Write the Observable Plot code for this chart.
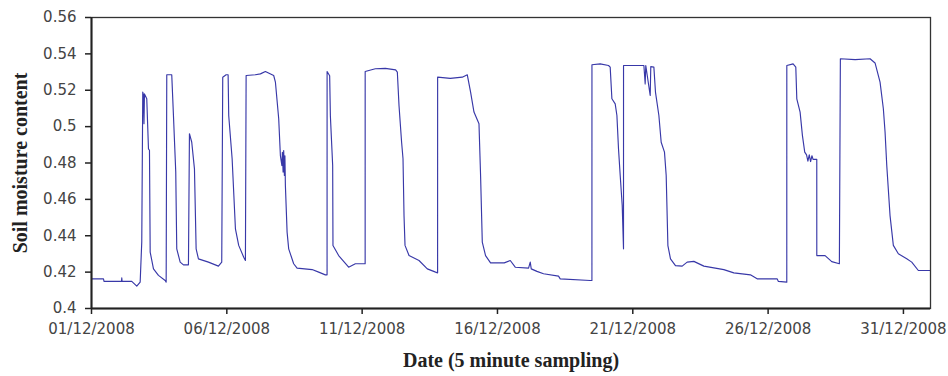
<!DOCTYPE html>
<html><head><meta charset="utf-8">
<script src="https://cdn.jsdelivr.net/npm/d3@7"></script>
<script src="https://cdn.jsdelivr.net/npm/@observablehq/plot@0.6"></script>
<style>body{margin:0;background:#fff}#chart svg{display:block}</style>
</head><body><div id="chart"></div>
<script>
// days since 01/12/2008 00:00
const days = [0.000,0.443,0.462,1.108,1.119,1.130,1.488,1.673,1.798,1.857,1.894,1.920,1.939,1.957,2.042,2.105,2.142,2.168,2.290,2.474,2.722,2.759,2.781,2.965,3.028,3.113,3.124,3.150,3.276,3.397,3.582,3.619,3.704,3.804,3.866,3.951,4.321,4.690,4.812,4.849,4.974,
5.048,5.070,5.196,5.318,5.439,5.624,5.687,5.713,6.056,6.241,6.425,6.732,6.795,6.917,6.979,7.035,7.053,7.079,7.101,7.127,7.146,7.164,7.227,7.286,7.470,7.596,8.150,8.394,8.641,8.704,8.705,8.800,8.826,8.911,8.922,9.132,9.501,9.749,10.055,
10.111,10.112,10.487,10.857,11.237,11.300,11.362,11.458,11.510,11.547,11.584,11.732,12.101,12.408,12.714,12.788,12.789,13.257,13.700,13.885,14.007,14.132,14.317,14.376,14.439,14.560,14.745,15.251,
15.473,15.657,16.148,16.211,16.248,16.459,16.702,17.256,17.319,18.427,18.490,18.491,18.796,19.103,19.165,19.228,19.350,19.413,19.472,19.535,19.609,19.657,19.658,
20.410,20.458,20.480,20.643,20.665,20.779,20.838,20.964,21.049,21.171,21.234,21.297,21.393,21.577,21.825,22.009,22.256,22.626,23.364,23.733,24.346,24.594,25.332,
25.380,25.690,25.691,25.923,26.023,26.060,26.182,26.267,26.353,26.420,26.470,26.520,26.570,26.620,26.660,26.798,26.799,27.105,27.352,27.633,27.670,28.213,28.767,28.951,29.136,29.258,29.321,29.384,29.505,29.627,29.812,30.122,30.307,30.551,31.000];
const moisture = [0.4163,0.4163,0.4149,0.4149,0.4168,0.4149,0.4149,0.4123,0.4145,0.4365,0.5190,0.5175,0.5016,0.5180,0.5153,0.4878,0.4870,0.4310,0.4218,0.4182,0.4154,0.4145,0.5285,0.5285,0.5061,0.4750,0.4621,0.4328,0.4255,0.4240,0.4240,0.4961,0.4914,0.4768,0.4328,0.4273,0.4255,0.4233,0.4255,0.5272,0.5285,
0.5285,0.5061,0.4823,0.4438,0.4347,0.4282,0.4264,0.5281,0.5285,0.5290,0.5303,0.5281,0.5245,0.5043,0.4841,0.4786,0.4859,0.4750,0.4868,0.4731,0.4840,0.4676,0.4420,0.4328,0.4246,0.4222,0.4214,0.4200,0.4185,0.4185,0.5303,0.5280,0.5060,0.4786,0.4346,0.4291,0.4227,0.4246,0.4246,
0.4246,0.5303,0.5318,0.5320,0.5312,0.5300,0.5116,0.4914,0.4823,0.4511,0.4347,0.4291,0.4264,0.4218,0.4200,0.4196,0.5272,0.5265,0.5272,0.5285,0.5190,0.5080,0.5016,0.4731,0.4365,0.4291,0.4251,0.4251,
0.4264,0.4227,0.4222,0.4255,0.4218,0.4204,0.4191,0.4178,0.4163,0.4154,0.4154,0.5340,0.5345,0.5336,0.5327,0.5153,0.5125,0.5061,0.4878,0.4731,0.4566,0.4328,0.5336,
0.5336,0.5235,0.5336,0.5171,0.5330,0.5327,0.5190,0.5061,0.4914,0.4860,0.4731,0.4346,0.4273,0.4236,0.4233,0.4255,0.4259,0.4233,0.4214,0.4196,0.4185,0.4163,0.4163,
0.4149,0.4145,0.5336,0.5345,0.5327,0.5153,0.5080,0.4952,0.4860,0.4845,0.4810,0.4845,0.4808,0.4840,0.4820,0.4820,0.4291,0.4291,0.4258,0.4246,0.5373,0.5368,0.5373,0.5350,0.5245,0.5098,0.4970,0.4786,0.4511,0.4347,0.4301,0.4273,0.4255,0.4209,0.4209];
const xTickDays = [0, 5, 10, 15, 20, 25, 30];
const xTickLabels = ["01/12/2008","06/12/2008","11/12/2008","16/12/2008","21/12/2008","26/12/2008","31/12/2008"];
const yTicks = [0.4, 0.42, 0.44, 0.46, 0.48, 0.5, 0.52, 0.54, 0.56];
const yTickLabels = ["0.4","0.42","0.44","0.46","0.48","0.5","0.52","0.54","0.56"];
const xTitle = "Date (5 minute sampling)";
const yTitle = "Soil moisture content";

const start = Date.UTC(2008, 11, 1);
const toDate = d => new Date(start + d * 864e5);
const data = days.map((d, i) => ({date: toDate(d), value: moisture[i]}));
const xTicks = xTickDays.map(toDate);

const plot = Plot.plot({
  width: 948, height: 376,
  marginLeft: 91, marginRight: 18, marginTop: 17, marginBottom: 68,
  style: {fontFamily: "DejaVu Sans", fontSize: "15px", color: "#444", background: "#fff", overflow: "visible"},
  x: {type: "utc", domain: [toDate(0), toDate(31)]},
  y: {domain: [0.4, 0.56]},
  marks: [
    Plot.line(data, {x: "date", y: "value", stroke: "#3838a8", strokeWidth: 1.15}),
    Plot.frame({stroke: "#333", strokeWidth: 1.3}),
    Plot.ruleX([toDate(0)], {stroke: "#222", strokeWidth: 2}),
    Plot.ruleY([0.4], {stroke: "#222", strokeWidth: 2}),
    Plot.axisY(yTicks, {tickSize: 6, tickPadding: 9, stroke: "#222", strokeWidth: 1.5, fill: "#444",
      tickFormat: d => yTickLabels[yTicks.indexOf(d)], label: null}),
    Plot.axisX(xTicks, {tickSize: 6, tickPadding: 9, stroke: "#222", strokeWidth: 1.5, fill: "#444",
      tickFormat: d => xTickLabels[xTicks.findIndex(t => +t === +d)], label: null}),
    Plot.text([yTitle], {text: d => d, frameAnchor: "left", textAnchor: "middle", dx: -71, rotate: -90,
      fontFamily: "Liberation Serif", fontSize: 20, fontWeight: "bold", fill: "#222"}),
    Plot.text([xTitle], {text: d => d, frameAnchor: "bottom", textAnchor: "middle", dy: 58,
      fontFamily: "Liberation Serif", fontSize: 20, fontWeight: "bold", fill: "#222"})
  ]
});
document.getElementById("chart").appendChild(plot);
</script>
</body></html>
